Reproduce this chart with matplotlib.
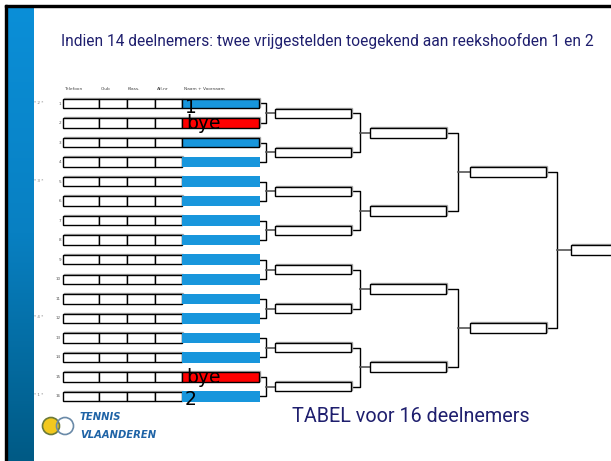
import numpy as np
import matplotlib.pyplot as plt
from matplotlib.patches import Rectangle, Circle
from matplotlib.colors import LinearSegmentedColormap

# tekst en gegevens van het schema
title = "Indien 14 deelnemers: twee vrijgestelden toegekend aan reekshoofden 1 en 2"
footer = "TABEL voor 16 deelnemers"
headers = ["Telefoon", "Club", "Klass.", "Afl.nr", "Naam + Voornaam"]
row_labels = [str(i) for i in range(1, 17)]
seed_rows = [1, 5, 12, 16]
seed_marks = ["* 2 *", "* 3 *", "* 4 *", "* 1 *"]
bye_rows = [2, 15]
seed_name_rows = [1, 16]
seed_names = ["1", "2"]
edged_rows = [1, 3]
round_boxes = [8, 4, 2, 1]

# layout (pixels)
ROW0, STEP, BOX_H = 103.5, 19.53, 9.5
cell_x = [63, 99, 127, 155, 182, 259]
header_x = [64, 101, 128, 157, 184]
round_x = [275, 370, 470, 571]
bracket_x = [266, 360, 458, 557]
BOX_W = 76
BLUE = "#1896dc"
NAVY = "#1f1f6e"

fig = plt.figure(figsize=(6.11, 4.61), dpi=100)
ax = fig.add_axes([0, 0, 1, 1])
ax.set_xlim(0, 611)
ax.set_ylim(461, 0)
ax.axis("off")

# rand en blauwe balk links
cmap = LinearSegmentedColormap.from_list("bar", ["#0b8fd8", "#0880c2", "#005a85"])
ax.imshow(np.linspace(0, 1, 256).reshape(-1, 1), extent=(7, 34, 461, 7),
          cmap=cmap, aspect="auto", zorder=1)
ax.add_patch(Rectangle((5, 5), 606, 2.2, color="black", zorder=2))
ax.add_patch(Rectangle((5, 5), 2.2, 456, color="black", zorder=2))

ax.text(61, 41, title, color=NAVY, fontsize=11.2, family="Roboto", va="center")
ax.text(292, 416, footer, color=NAVY, fontsize=14.2, family="Roboto", va="center")


def box(x0, x1, yc, face="white", edge="black"):
    ax.add_patch(Rectangle((x0 + 1, yc - BOX_H / 2 - 1), x1 - x0, BOX_H,
                           facecolor="none", edgecolor="#aaaaaa", lw=1, zorder=3))
    ax.add_patch(Rectangle((x0, yc - BOX_H / 2), x1 - x0, BOX_H,
                           facecolor=face, edgecolor=edge, lw=1, zorder=4))


for hx, h in zip(header_x, headers):
    ax.text(hx, 89, h, fontsize=3.2, color="#444444", va="center")

centers = []
for i, lab in enumerate(row_labels):
    n = i + 1
    yc = ROW0 + i * STEP
    centers.append(yc)
    for x0, x1 in zip(cell_x[:4], cell_x[1:5]):
        box(x0, x1, yc)
    if n in bye_rows:
        box(cell_x[4], cell_x[5], yc, face="#ff0000")
        ax.text(cell_x[4] + 4, yc + 6, "bye", fontsize=13.5, va="baseline", zorder=6)
    elif n in edged_rows:
        box(cell_x[4], cell_x[5], yc, face=BLUE)
    else:
        ax.add_patch(Rectangle((cell_x[4], yc - BOX_H / 2 - 0.5), cell_x[5] - cell_x[4] + 1,
                               BOX_H + 1, facecolor=BLUE, edgecolor="none", zorder=4))
    ax.text(61, yc, lab, fontsize=3, color="#555555", ha="right", va="center")
    if n in seed_rows:
        ax.text(39, yc - 1, seed_marks[seed_rows.index(n)], fontsize=3,
                color="#777777", ha="center", va="center")
    if n in seed_name_rows:
        ax.text(cell_x[4] + 3, yc + 9, seed_names[seed_name_rows.index(n)],
                fontsize=13.5, va="baseline", zorder=6)

# rondes
prev_right = cell_x[5]
for r, nb in enumerate(round_boxes):
    vx = bracket_x[r]
    new_centers = []
    for k in range(nb):
        a, b = centers[2 * k], centers[2 * k + 1]
        mid = (a + b) / 2
        ax.plot([prev_right, vx, vx, prev_right], [a, a, b, b], color="black", lw=1, zorder=2)
        ax.plot([vx, round_x[r]], [mid, mid], color="#555555", lw=1.2, zorder=2)
        box(round_x[r], round_x[r] + BOX_W, mid)
        new_centers.append(mid)
    centers = new_centers
    prev_right = round_x[r] + BOX_W

# logo Tennis Vlaanderen
ax.add_patch(Circle((51, 426), 8.5, facecolor="#f2c81e", edgecolor="#6b7a3a", lw=1.2, zorder=3))
ax.add_patch(Circle((65, 426), 8.5, facecolor="none", edgecolor="#6a8aa8", lw=1.2, zorder=3))
ax.text(80, 417, "TENNIS", fontsize=8, color="#1e63a6", weight="bold", style="italic",
        family="DejaVu Sans", stretch="condensed", va="center")
ax.text(80, 435, "VLAANDEREN", fontsize=8, color="#1e63a6", weight="bold", style="italic",
        family="DejaVu Sans", stretch="condensed", va="center")

plt.savefig("out.png", dpi=100)
